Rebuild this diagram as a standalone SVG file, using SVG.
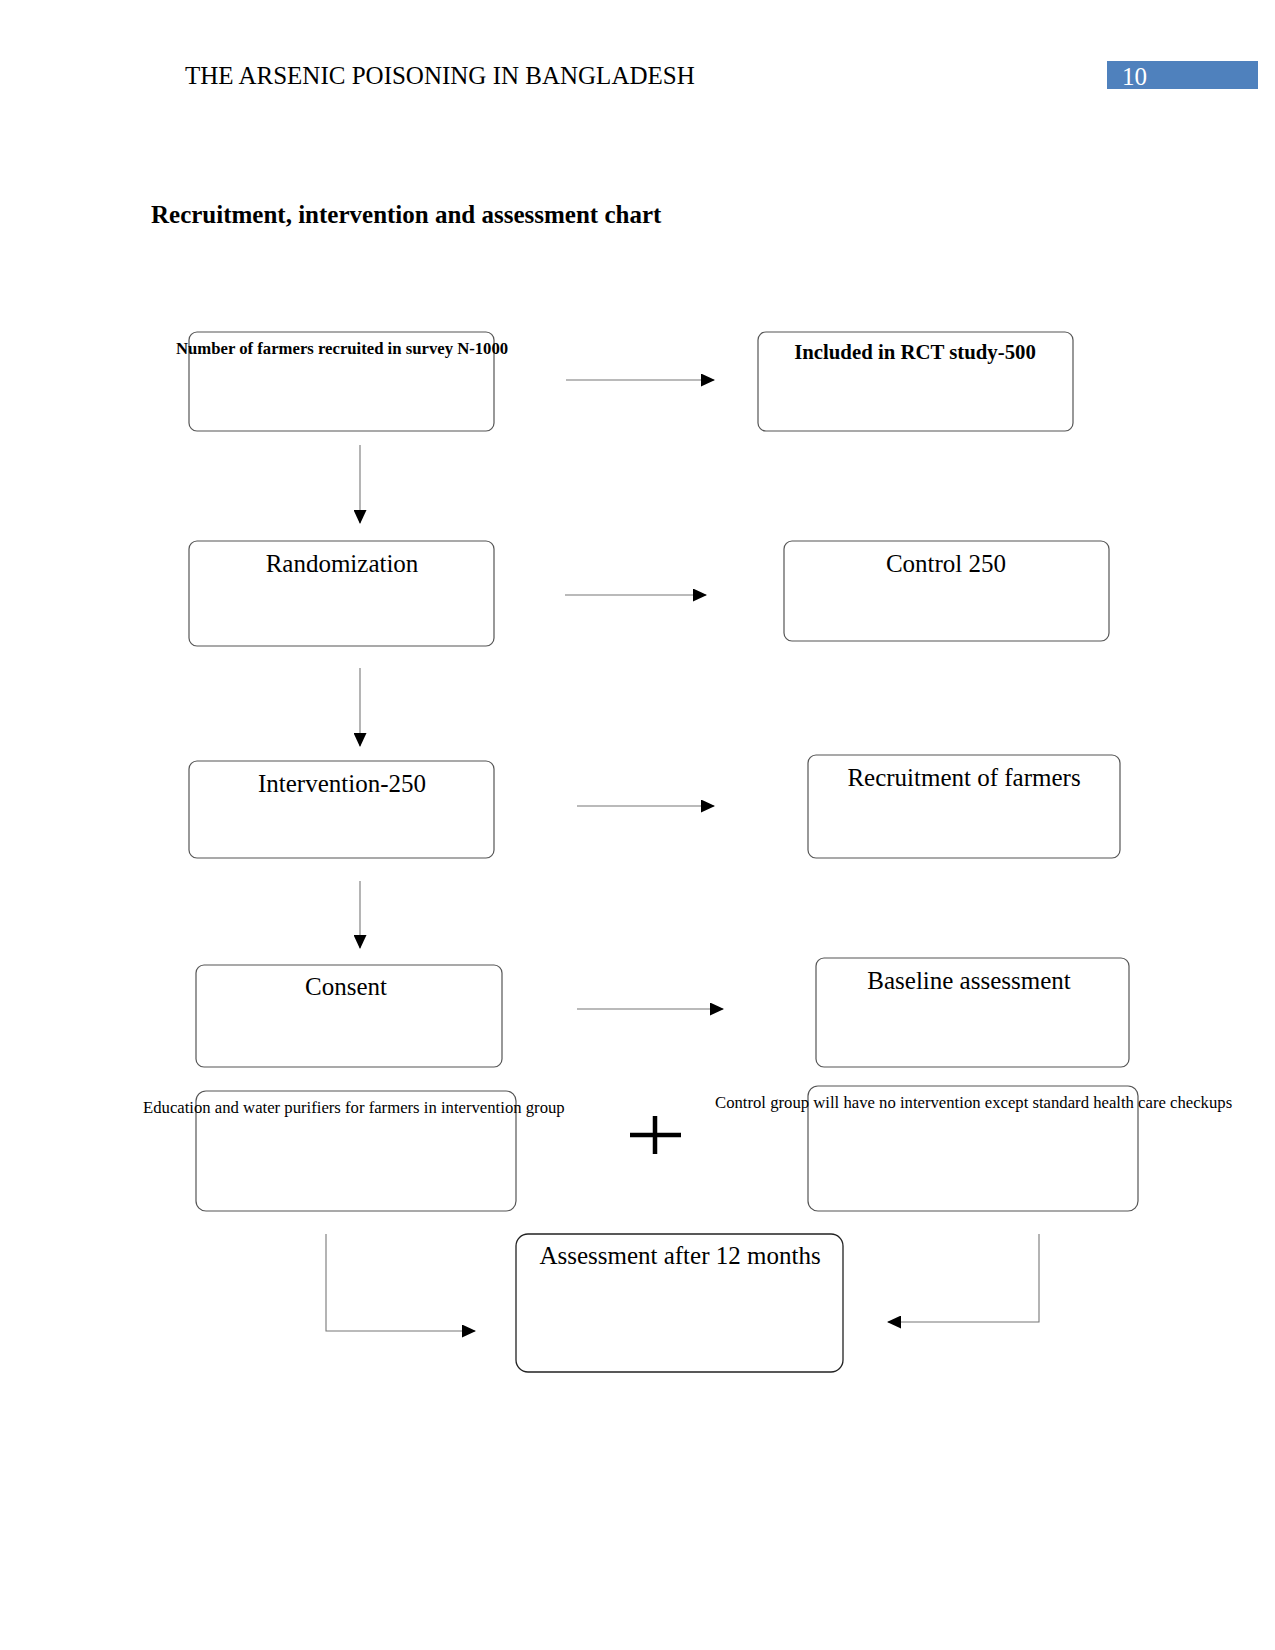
<svg xmlns="http://www.w3.org/2000/svg" width="1275" height="1650" viewBox="0 0 1275 1650">
<style>
text{font-family:"Liberation Serif","Times New Roman",serif;fill:#000}
.box{fill:#fff;stroke:#555;stroke-width:1.2}
.big{font-size:25px}
.mid{font-size:20.8px;font-weight:bold}
.sm{font-size:16.7px}
.smb{font-size:16.7px;font-weight:bold}
.c{text-anchor:middle}
.ln{fill:none;stroke:#777;stroke-width:1.1}
</style>
<defs>
<marker id="ah" markerWidth="14" markerHeight="13" refX="13" refY="6.5" orient="auto" markerUnits="userSpaceOnUse">
<path d="M0,0 L14,6.5 L0,13 Z" fill="#000"/>
</marker>
</defs>
<rect width="1275" height="1650" fill="#fff"/>
<g transform="translate(1,1)">
<g id="header">
<text x="184" y="83" class="big">THE ARSENIC POISONING IN BANGLADESH</text>
<rect x="1106" y="60" width="151" height="28" fill="#4f81bd"/>
<text x="1121" y="84" class="big" style="fill:#fff">10</text>
</g>
<text x="150" y="222" class="big" font-weight="bold">Recruitment, intervention and assessment chart</text>
<g id="n-survey"><rect class="box" x="188" y="331" width="305" height="99" rx="8"/><text x="175" y="353" class="smb">Number of farmers recruited in survey N-1000</text></g>
<g id="n-rct"><rect class="box" x="757" y="331" width="315" height="99" rx="8"/><text x="914" y="358" class="mid c">Included in RCT study-500</text></g>
<g id="n-random"><rect class="box" x="188" y="540" width="305" height="105" rx="8"/><text x="341" y="571" class="big c">Randomization</text></g>
<g id="n-control"><rect class="box" x="783" y="540" width="325" height="100" rx="8"/><text x="945" y="571" class="big c">Control 250</text></g>
<g id="n-interv"><rect class="box" x="188" y="760" width="305" height="97" rx="8"/><text x="341" y="791" class="big c">Intervention-250</text></g>
<g id="n-recruit"><rect class="box" x="807" y="754" width="312" height="103" rx="8"/><text x="963" y="785" class="big c">Recruitment of farmers</text></g>
<g id="n-consent"><rect class="box" x="195" y="964" width="306" height="102" rx="8"/><text x="345" y="994" class="big c">Consent</text></g>
<g id="n-baseline"><rect class="box" x="815" y="957" width="313" height="109" rx="8"/><text x="968" y="988" class="big c">Baseline assessment</text></g>
<g id="n-edu"><rect class="box" x="195" y="1090" width="320" height="120" rx="10"/><text x="142" y="1112" class="sm">Education and water purifiers for farmers in intervention group</text></g>
<g id="n-ctrlgrp"><rect class="box" x="807" y="1085" width="330" height="125" rx="10"/><text x="714" y="1107" class="sm">Control group will have no intervention except standard health care checkups</text></g>
<g id="plus"><path d="M629,1134 H680 M654,1115 V1153" stroke="#000" stroke-width="4.5" fill="none"/></g>
<g id="n-final"><rect x="515" y="1233" width="327" height="138" rx="12" fill="#fff" stroke="#222" stroke-width="1.3"/><text x="679" y="1263" class="big c">Assessment after 12 months</text></g>
<g id="connectors">
<path class="ln" d="M565,379 H713" marker-end="url(#ah)"/>
<path class="ln" d="M359,444 V522" marker-end="url(#ah)"/>
<path class="ln" d="M564,594 H705" marker-end="url(#ah)"/>
<path class="ln" d="M359,667 V745" marker-end="url(#ah)"/>
<path class="ln" d="M576,805 H713" marker-end="url(#ah)"/>
<path class="ln" d="M359,880 V947" marker-end="url(#ah)"/>
<path class="ln" d="M576,1008 H722" marker-end="url(#ah)"/>
<path class="ln" d="M325,1233 V1330 H474" marker-end="url(#ah)"/>
<path class="ln" d="M1038,1233 V1321 H887" marker-end="url(#ah)"/>
</g>
</g>
</svg>
